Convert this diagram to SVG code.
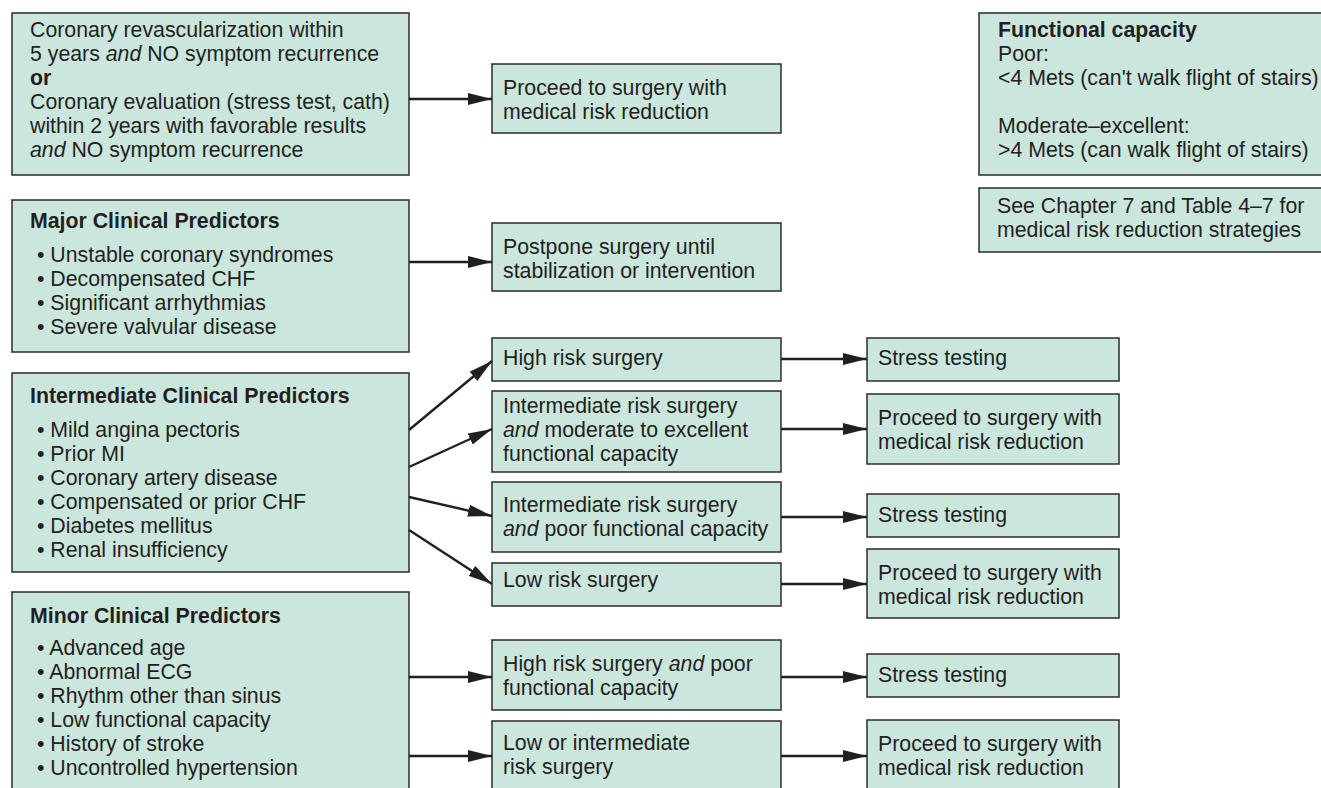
<svg xmlns="http://www.w3.org/2000/svg" width="1321" height="788" viewBox="0 0 1321 788">
<style>
.box{fill:#cbe6dc;stroke:#2b2b2b;stroke-width:1.5}
text{font-family:"Liberation Sans",Arial,Helvetica,sans-serif;font-size:21.3px;fill:#231f20}
.b{font-weight:bold}
.i{font-style:italic}
.c{stroke:#231f20;stroke-width:2.4;fill:none}
</style>
<defs>
<marker id="ah" markerUnits="userSpaceOnUse" markerWidth="24" markerHeight="12" refX="24" refY="6" orient="auto" viewBox="0 0 24 12">
<path d="M0,0 L24,6 L0,12 Z" fill="#231f20"/>
</marker>
</defs>
<rect width="1321" height="788" fill="#ffffff"/>

<g id="n_revasc">
<rect class="box" x="12" y="13" width="397" height="162"/>
<text x="30" y="37">Coronary revascularization within</text>
<text x="30" y="61">5 years <tspan class="i">and</tspan> NO symptom recurrence</text>
<text x="30" y="85" class="b">or</text>
<text x="30" y="109">Coronary evaluation (stress test, cath)</text>
<text x="30" y="133">within 2 years with favorable results</text>
<text x="30" y="157"><tspan class="i">and</tspan> NO symptom recurrence</text>
</g>

<g id="n_major">
<rect class="box" x="12" y="200" width="397" height="152"/>
<text x="30" y="228" class="b">Major Clinical Predictors</text>
<text x="37" y="262">• Unstable coronary syndromes</text>
<text x="37" y="286">• Decompensated CHF</text>
<text x="37" y="310">• Significant arrhythmias</text>
<text x="37" y="334">• Severe valvular disease</text>
</g>

<g id="n_inter">
<rect class="box" x="12" y="373" width="397" height="199"/>
<text x="30" y="403" class="b">Intermediate Clinical Predictors</text>
<text x="37" y="437">• Mild angina pectoris</text>
<text x="37" y="461">• Prior MI</text>
<text x="37" y="485">• Coronary artery disease</text>
<text x="37" y="509">• Compensated or prior CHF</text>
<text x="37" y="533">• Diabetes mellitus</text>
<text x="37" y="557">• Renal insufficiency</text>
</g>

<g id="n_minor">
<rect class="box" x="12" y="592" width="397" height="210"/>
<text x="30" y="623" class="b">Minor Clinical Predictors</text>
<text x="37" y="655">• Advanced age</text>
<text x="37" y="679">• Abnormal ECG</text>
<text x="37" y="703">• Rhythm other than sinus</text>
<text x="37" y="727">• Low functional capacity</text>
<text x="37" y="751">• History of stroke</text>
<text x="37" y="775">• Uncontrolled hypertension</text>
</g>

<g id="n_proceed1">
<rect class="box" x="492" y="64" width="289" height="69"/>
<text x="503" y="95">Proceed to surgery with</text>
<text x="503" y="119">medical risk reduction</text>
</g>

<g id="n_postpone">
<rect class="box" x="492" y="223" width="289" height="68"/>
<text x="503" y="254">Postpone surgery until</text>
<text x="503" y="278">stabilization or intervention</text>
</g>

<g id="n_highrisk">
<rect class="box" x="492" y="338" width="289" height="43"/>
<text x="503" y="365">High risk surgery</text>
</g>

<g id="n_intmod">
<rect class="box" x="492" y="391" width="289" height="81"/>
<text x="503" y="413">Intermediate risk surgery</text>
<text x="503" y="437"><tspan class="i">and</tspan> moderate to excellent</text>
<text x="503" y="461">functional capacity</text>
</g>

<g id="n_intpoor">
<rect class="box" x="492" y="482" width="289" height="70"/>
<text x="503" y="512">Intermediate risk surgery</text>
<text x="503" y="536"><tspan class="i">and</tspan> poor functional capacity</text>
</g>

<g id="n_lowrisk">
<rect class="box" x="492" y="563" width="289" height="43"/>
<text x="503" y="587">Low risk surgery</text>
</g>

<g id="n_highpoor">
<rect class="box" x="492" y="640" width="289" height="70"/>
<text x="503" y="671">High risk surgery <tspan class="i">and</tspan> poor</text>
<text x="503" y="695">functional capacity</text>
</g>

<g id="n_lowint">
<rect class="box" x="492" y="721" width="289" height="90"/>
<text x="503" y="750">Low or intermediate</text>
<text x="503" y="774">risk surgery</text>
</g>

<g id="n_stress1">
<rect class="box" x="867" y="338" width="252" height="43"/>
<text x="878" y="365">Stress testing</text>
</g>

<g id="n_proceed2">
<rect class="box" x="867" y="394" width="252" height="70"/>
<text x="878" y="425">Proceed to surgery with</text>
<text x="878" y="449">medical risk reduction</text>
</g>

<g id="n_stress2">
<rect class="box" x="867" y="494" width="252" height="43"/>
<text x="878" y="522">Stress testing</text>
</g>

<g id="n_proceed3">
<rect class="box" x="867" y="549" width="252" height="69"/>
<text x="878" y="580">Proceed to surgery with</text>
<text x="878" y="604">medical risk reduction</text>
</g>

<g id="n_stress3">
<rect class="box" x="867" y="654" width="252" height="43"/>
<text x="878" y="682">Stress testing</text>
</g>

<g id="n_proceed4">
<rect class="box" x="867" y="720" width="252" height="90"/>
<text x="878" y="751">Proceed to surgery with</text>
<text x="878" y="775">medical risk reduction</text>
</g>

<g id="n_functional">
<rect class="box" x="979" y="13" width="360" height="162"/>
<text x="998" y="37" class="b">Functional capacity</text>
<text x="998" y="61">Poor:</text>
<text x="998" y="85">&lt;4 Mets (can't walk flight of stairs)</text>
<text x="998" y="133">Moderate–excellent:</text>
<text x="998" y="157">&gt;4 Mets (can walk flight of stairs)</text>
</g>

<g id="n_seechapter">
<rect class="box" x="979" y="188" width="360" height="64"/>
<text x="997" y="213">See Chapter 7 and Table 4–7 for</text>
<text x="997" y="237">medical risk reduction strategies</text>
</g>

<g id="connectors">
<line class="c" x1="409" y1="99" x2="492" y2="99" marker-end="url(#ah)"/>
<line class="c" x1="409" y1="262" x2="492" y2="262" marker-end="url(#ah)"/>
<line class="c" x1="409" y1="430" x2="492" y2="361" marker-end="url(#ah)"/>
<line class="c" x1="409" y1="467" x2="492" y2="429" marker-end="url(#ah)"/>
<line class="c" x1="409" y1="497" x2="492" y2="516" marker-end="url(#ah)"/>
<line class="c" x1="409" y1="530" x2="492" y2="584" marker-end="url(#ah)"/>
<line class="c" x1="409" y1="677" x2="492" y2="677" marker-end="url(#ah)"/>
<line class="c" x1="409" y1="756" x2="492" y2="756" marker-end="url(#ah)"/>
<line class="c" x1="781" y1="359" x2="867" y2="359" marker-end="url(#ah)"/>
<line class="c" x1="781" y1="429" x2="867" y2="429" marker-end="url(#ah)"/>
<line class="c" x1="781" y1="517" x2="867" y2="517" marker-end="url(#ah)"/>
<line class="c" x1="781" y1="584" x2="867" y2="584" marker-end="url(#ah)"/>
<line class="c" x1="781" y1="677" x2="867" y2="677" marker-end="url(#ah)"/>
<line class="c" x1="781" y1="756" x2="867" y2="756" marker-end="url(#ah)"/>
</g>
</svg>
